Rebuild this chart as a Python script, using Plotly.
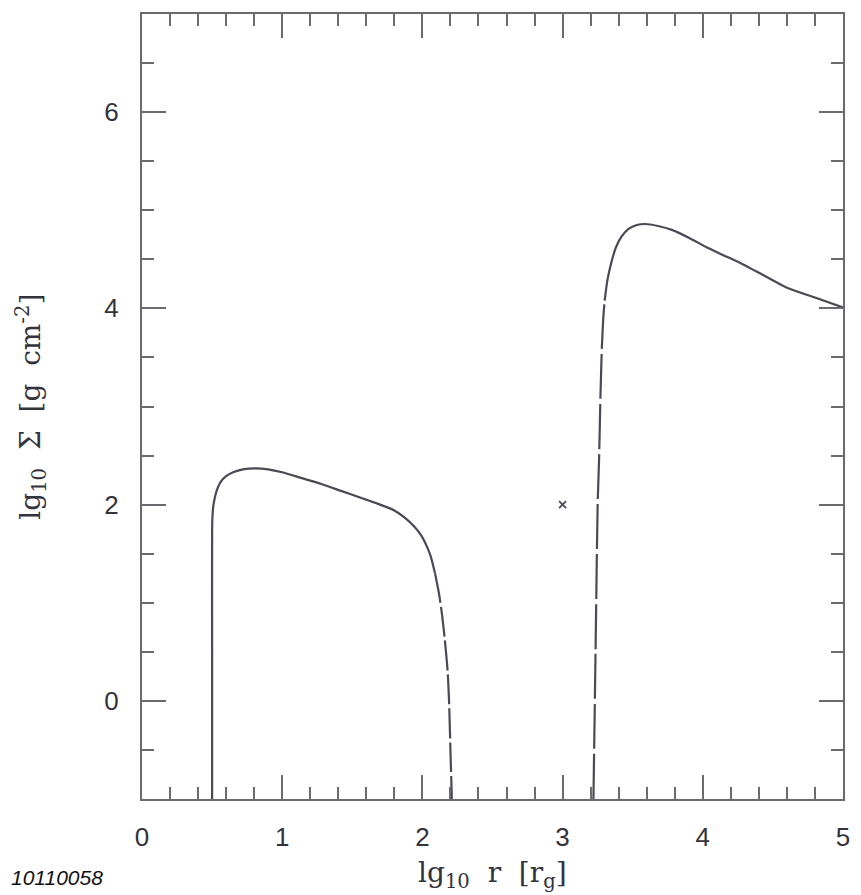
import plotly.graph_objects as go

# Left branch of the surface-density profile
left_x = [0.50, 0.50, 0.50, 0.502, 0.51, 0.53, 0.56, 0.60, 0.65, 0.72, 0.81, 0.90, 1.00, 1.14,
          1.28, 1.42, 1.56, 1.68, 1.80, 1.88, 1.94, 1.99, 2.03, 2.06, 2.09, 2.12, 2.14, 2.16,
          2.18, 2.19, 2.20, 2.21]
left_y = [-1.0, 0.50, 1.70, 1.86, 2.00, 2.13, 2.23, 2.29, 2.33, 2.36, 2.37, 2.36, 2.33, 2.27,
          2.21, 2.14, 2.07, 2.01, 1.94, 1.86, 1.78, 1.69, 1.58, 1.47, 1.30, 1.08, 0.88, 0.62,
          0.30, 0.00, -0.50, -1.0]
left_split = 24  # index where the steep (dashed) part begins

# Right branch
right_x = [3.22, 3.235, 3.25, 3.26, 3.27, 3.28, 3.29, 3.30, 3.32, 3.35, 3.38, 3.42, 3.47, 3.53,
           3.59, 3.68, 3.78, 3.90, 4.03, 4.15, 4.27, 4.43, 4.60, 4.80, 5.00]
right_y = [-1.0, 0.50, 2.00, 2.45, 3.10, 3.60, 3.90, 4.08, 4.29, 4.48, 4.62, 4.73, 4.81, 4.85,
           4.86, 4.84, 4.80, 4.72, 4.62, 4.54, 4.46, 4.34, 4.21, 4.11, 4.01]
right_split = 7  # dashed up to this index

# Single marked point
mark_x = [3.0]
mark_y = [2.0]

x_ticks = [0, 1, 2, 3, 4, 5]
y_ticks = [0, 2, 4, 6]

line_col = "#4a4a55"
axis_col = "#6a6a70"

fig = go.Figure()
common = dict(mode="lines", showlegend=False, line_shape="spline")
fig.add_trace(go.Scatter(x=left_x[:left_split + 1], y=left_y[:left_split + 1],
                         line=dict(color=line_col, width=2.2, smoothing=0.6), **common))
fig.add_trace(go.Scatter(x=left_x[left_split:], y=left_y[left_split:],
                         line=dict(color=line_col, width=2.2, dash="30px,4px", smoothing=0.6), **common))
fig.add_trace(go.Scatter(x=right_x[:right_split + 1], y=right_y[:right_split + 1],
                         line=dict(color=line_col, width=2.2, dash="45px,5px", smoothing=0.6), **common))
fig.add_trace(go.Scatter(x=right_x[right_split:], y=right_y[right_split:],
                         line=dict(color=line_col, width=2.2, smoothing=0.6), **common))
fig.add_trace(go.Scatter(x=mark_x, y=mark_y, mode="markers",
                         marker=dict(symbol="x-thin", size=7, line=dict(color=line_col, width=1.8)),
                         showlegend=False))

tickfont = dict(family="Liberation Sans, Arial, sans-serif", size=26, color="#33333b")

fig.update_xaxes(range=[0, 5], tickvals=x_ticks, ticktext=[str(v) for v in x_ticks],
                 ticks="inside", ticklen=24, tickwidth=2, tickcolor=axis_col,
                 minor=dict(dtick=0.2, tick0=0, ticks="inside", ticklen=12, tickwidth=2, tickcolor=axis_col),
                 showline=True, linecolor=axis_col, linewidth=2, mirror="allticks",
                 showgrid=False, zeroline=False, tickfont=tickfont, ticklabelstandoff=14)
fig.update_yaxes(range=[-1, 7], tickvals=y_ticks, ticktext=[str(v) for v in y_ticks],
                 ticks="inside", ticklen=24, tickwidth=2, tickcolor=axis_col,
                 minor=dict(dtick=0.5, tick0=0, ticks="inside", ticklen=12, tickwidth=2, tickcolor=axis_col),
                 showline=True, linecolor=axis_col, linewidth=2, mirror="allticks",
                 showgrid=False, zeroline=False, tickfont=tickfont, ticklabelstandoff=16)

titlefont = dict(family="DejaVu Serif, Liberation Serif, serif", size=28, color="#33333b")
fig.add_annotation(text="lg<sub>10</sub>&nbsp;&nbsp;r&nbsp;&nbsp;[r<sub>g</sub>]", xref="paper", yref="paper",
                   x=0.5, y=-0.07, xanchor="center", yanchor="top", showarrow=False, font=titlefont)
fig.add_annotation(text="lg<sub>10</sub>&nbsp;&nbsp;Σ&nbsp;&nbsp;[g&nbsp;&nbsp;cm<sup>-2</sup>]",
                   xref="paper", yref="paper",
                   x=-0.158, y=0.50, xanchor="center", yanchor="middle", textangle=-90,
                   showarrow=False, font=titlefont)
fig.add_annotation(text="<i>10110058</i>", xref="paper", yref="paper", x=-0.19, y=-0.10,
                   xanchor="left", yanchor="middle", showarrow=False,
                   font=dict(family="Liberation Sans, Arial, sans-serif", size=21, color="#111111"))

fig.update_layout(width=861, height=895, margin=dict(l=142, r=11, t=14, b=96),
                  plot_bgcolor="white", paper_bgcolor="white")

fig.write_html("out.html")
